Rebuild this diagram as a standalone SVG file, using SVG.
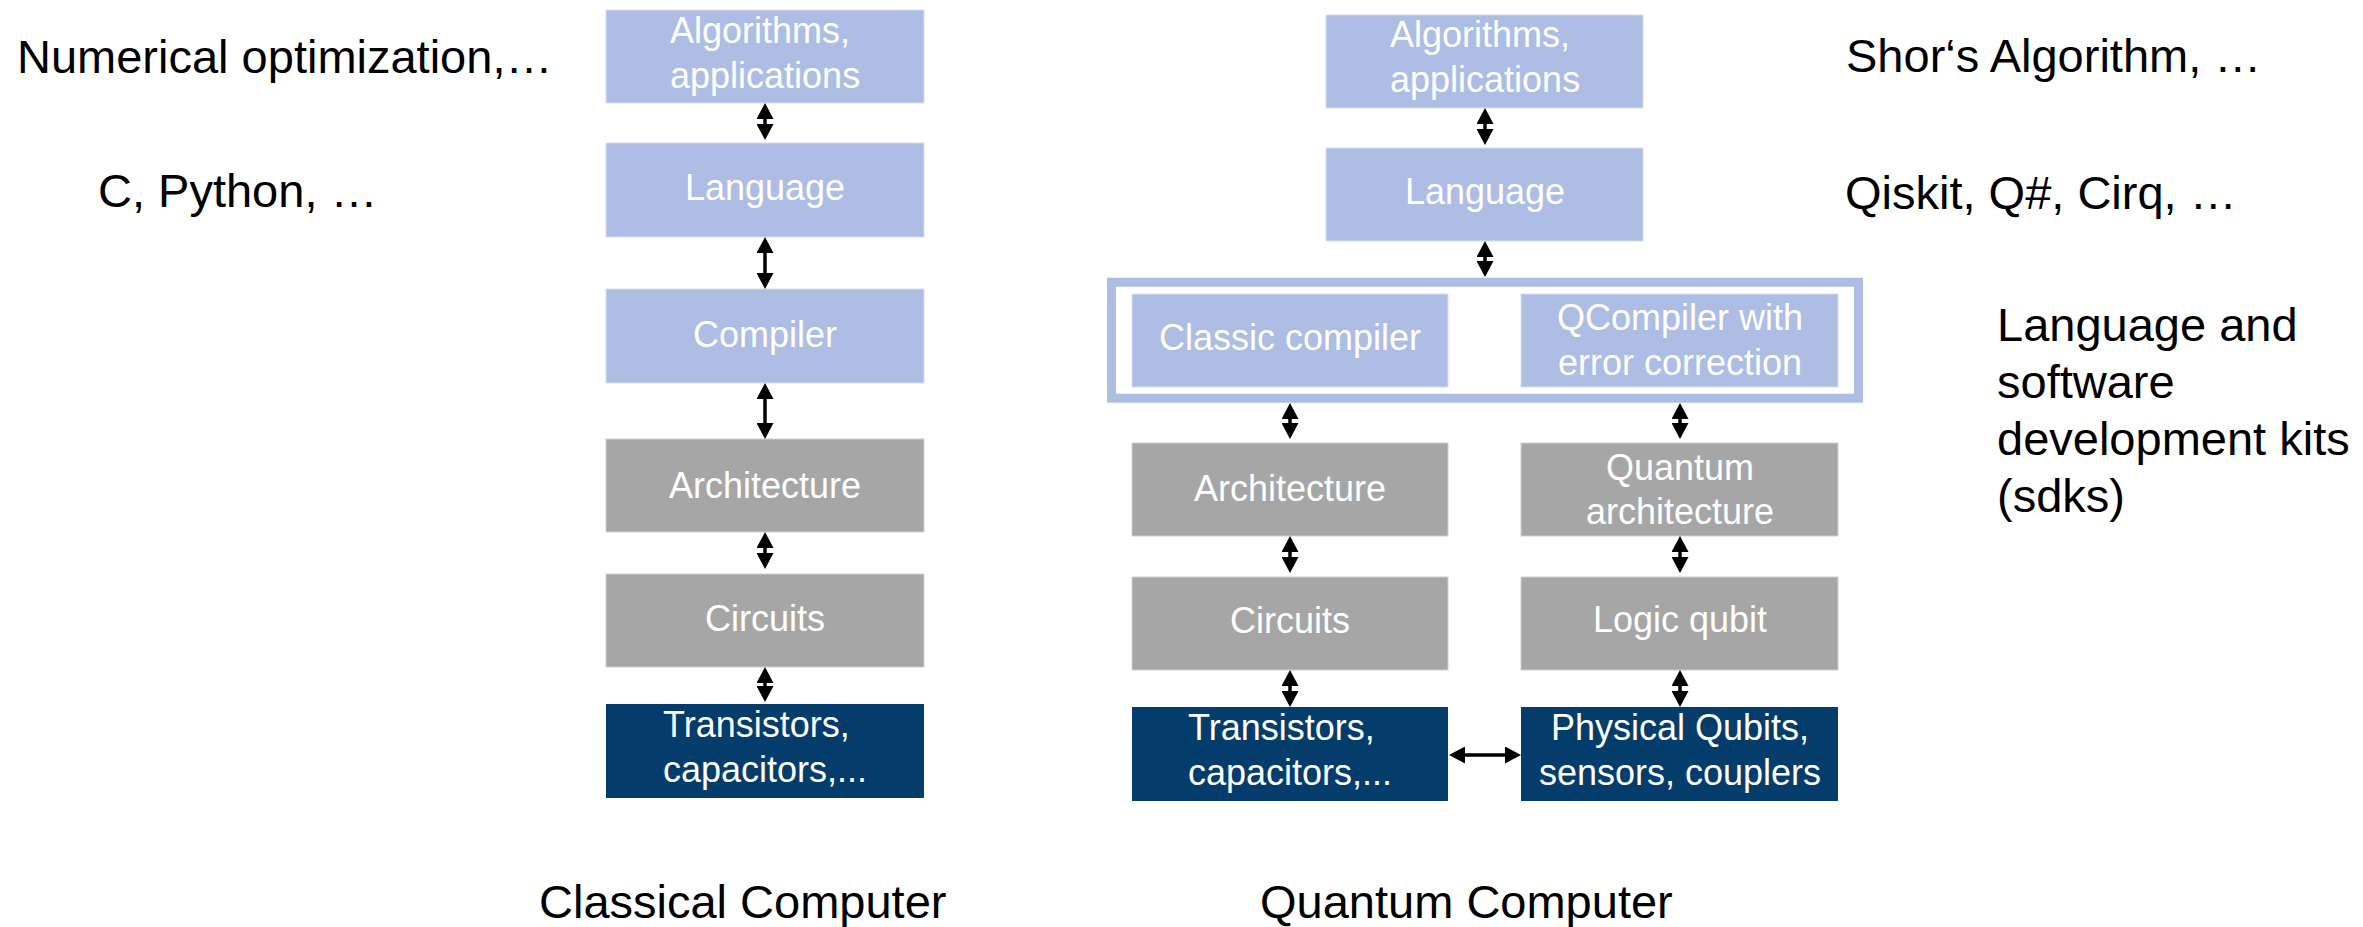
<svg xmlns="http://www.w3.org/2000/svg" width="2363" height="927" viewBox="0 0 2363 927">
<style>
  .blue { fill: #ADBDE3; stroke: #D6DEF1; stroke-width: 1; }
  .gray { fill: #A6A6A6; stroke: #D0D0D0; stroke-width: 1; }
  .navy { fill: #043C6B; }
  .bt { font-family: "Liberation Sans", Arial, sans-serif; font-size: 36px; fill: #FFFFFF; text-anchor: middle; }
  .bl { font-family: "Liberation Sans", Arial, sans-serif; font-size: 36px; fill: #FFFFFF; text-anchor: start; }
  .lab { font-family: "Liberation Sans", Arial, sans-serif; font-size: 47px; fill: #000000; }
  .conn { stroke: #000000; stroke-width: 3.5; fill: none; marker-start: url(#ah); marker-end: url(#ah); }
</style>
<defs>
  <marker id="ah" markerUnits="userSpaceOnUse" markerWidth="16" markerHeight="17" refX="6" refY="8.5" orient="auto-start-reverse">
    <path d="M0,0 L16,8.5 L0,17 Z" fill="#000000"/>
  </marker>
</defs>
<rect width="2363" height="927" fill="#FFFFFF"/>

<!-- Side labels -->
<g id="side-labels">
  <text class="lab" x="17" y="73">Numerical optimization,…</text>
  <text class="lab" x="98" y="207">C, Python, …</text>
  <text class="lab" x="1846" y="72">Shor‘s Algorithm, …</text>
  <text class="lab" x="1845" y="209">Qiskit, Q#, Cirq, …</text>
  <text class="lab" x="1997" y="341">Language and</text>
  <text class="lab" x="1997" y="398">software</text>
  <text class="lab" x="1997" y="455">development kits</text>
  <text class="lab" x="1997" y="512">(sdks)</text>
  <text class="lab" x="539" y="918">Classical Computer</text>
  <text class="lab" x="1260" y="918">Quantum Computer</text>
</g>

<!-- Classical column -->
<g id="c-algorithms">
  <rect class="blue" x="606" y="10" width="318" height="93"/>
  <text class="bl" x="670" y="43">Algorithms,</text>
  <text class="bl" x="670" y="88">applications</text>
</g>
<g id="c-language">
  <rect class="blue" x="606" y="143" width="318" height="94"/>
  <text class="bt" x="765" y="200">Language</text>
</g>
<g id="c-compiler">
  <rect class="blue" x="606" y="289" width="318" height="94"/>
  <text class="bt" x="765" y="347">Compiler</text>
</g>
<g id="c-architecture">
  <rect class="gray" x="606" y="439" width="318" height="93"/>
  <text class="bt" x="765" y="498">Architecture</text>
</g>
<g id="c-circuits">
  <rect class="gray" x="606" y="574" width="318" height="93"/>
  <text class="bt" x="765" y="631">Circuits</text>
</g>
<g id="c-transistors">
  <rect class="navy" x="606" y="704" width="318" height="94"/>
  <text class="bl" x="663" y="737">Transistors,</text>
  <text class="bl" x="663" y="782">capacitors,...</text>
</g>

<!-- Quantum column -->
<g id="q-algorithms">
  <rect class="blue" x="1326" y="15" width="317" height="93"/>
  <text class="bl" x="1390" y="47">Algorithms,</text>
  <text class="bl" x="1390" y="92">applications</text>
</g>
<g id="q-language">
  <rect class="blue" x="1326" y="148" width="317" height="93"/>
  <text class="bt" x="1485" y="204">Language</text>
</g>
<g id="q-compiler-frame">
  <rect x="1111.5" y="282.2" width="747" height="116" fill="none" stroke="#ADBDE3" stroke-width="9"/>
</g>
<g id="q-classic-compiler">
  <rect class="blue" x="1132" y="294" width="316" height="93"/>
  <text class="bt" x="1290" y="350">Classic compiler</text>
</g>
<g id="q-qcompiler">
  <rect class="blue" x="1521" y="294" width="317" height="93"/>
  <text class="bt" x="1680" y="330">QCompiler with</text>
  <text class="bt" x="1680" y="375">error correction</text>
</g>
<g id="q-architecture">
  <rect class="gray" x="1132" y="443" width="316" height="93"/>
  <text class="bt" x="1290" y="501">Architecture</text>
</g>
<g id="q-quantum-architecture">
  <rect class="gray" x="1521" y="443" width="317" height="93"/>
  <text class="bt" x="1680" y="480">Quantum</text>
  <text class="bt" x="1680" y="524">architecture</text>
</g>
<g id="q-circuits">
  <rect class="gray" x="1132" y="577" width="316" height="93"/>
  <text class="bt" x="1290" y="633">Circuits</text>
</g>
<g id="q-logic-qubit">
  <rect class="gray" x="1521" y="577" width="317" height="93"/>
  <text class="bt" x="1680" y="632">Logic qubit</text>
</g>
<g id="q-transistors">
  <rect class="navy" x="1132" y="707" width="316" height="94"/>
  <text class="bl" x="1188" y="740">Transistors,</text>
  <text class="bl" x="1188" y="785">capacitors,...</text>
</g>
<g id="q-physical">
  <rect class="navy" x="1521" y="707" width="317" height="94"/>
  <text class="bt" x="1680" y="740">Physical Qubits,</text>
  <text class="bt" x="1680" y="785">sensors, couplers</text>
</g>

<!-- Connectors -->
<g id="connectors">
  <line class="conn" x1="765" y1="113" x2="765" y2="130"/>
  <line class="conn" x1="765" y1="247" x2="765" y2="279"/>
  <line class="conn" x1="765" y1="393" x2="765" y2="429"/>
  <line class="conn" x1="765" y1="542" x2="765" y2="559"/>
  <line class="conn" x1="765" y1="677" x2="765" y2="692"/>
  <line class="conn" x1="1485" y1="118" x2="1485" y2="135"/>
  <line class="conn" x1="1485" y1="251" x2="1485" y2="267"/>
  <line class="conn" x1="1290" y1="413" x2="1290" y2="429"/>
  <line class="conn" x1="1680" y1="413" x2="1680" y2="429"/>
  <line class="conn" x1="1290" y1="546" x2="1290" y2="563"/>
  <line class="conn" x1="1680" y1="546" x2="1680" y2="563"/>
  <line class="conn" x1="1290" y1="680" x2="1290" y2="697"/>
  <line class="conn" x1="1680" y1="680" x2="1680" y2="697"/>
  <line class="conn" x1="1459" y1="755" x2="1511" y2="755"/>
</g>
</svg>
